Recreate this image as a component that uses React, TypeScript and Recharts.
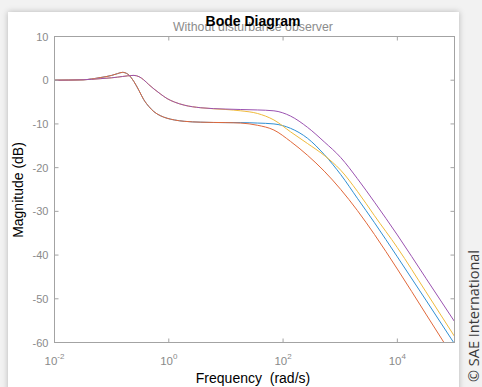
import React from 'react';
import { LineChart, Line, XAxis, YAxis } from 'recharts';

// Frequency grid (rad/s)
const FREQ = [
  0.01, 0.0316, 0.0631, 0.1, 0.126, 0.155, 0.191, 0.245, 0.302, 0.363,
  0.447, 0.55, 0.708, 0.933, 1.26, 1.86, 3.63, 10, 18.2, 35.5,
  69.2, 135, 269, 525, 1023, 1995, 3981, 10000, 31623, 100000,
];

// Magnitudes (dB)
const MAG_BLUE = [
  0, 0.1, 0.6, 1.1, 1.5, 1.8, 1.4, -0.3, -2.4, -4.4,
  -6.0, -7.2, -8.1, -8.7, -9.1, -9.4, -9.6, -9.7, -9.7, -9.8,
  -10.0, -11.0, -13.3, -17.0, -21.6, -27.0, -32.6, -40.4, -50.3, -60.3,
];
const MAG_ORANGE = [
  0, 0.1, 0.6, 1.1, 1.5, 1.8, 1.4, -0.3, -2.4, -4.4,
  -6.0, -7.2, -8.1, -8.7, -9.1, -9.4, -9.6, -9.7, -9.8, -10.3,
  -11.4, -14.0, -17.2, -20.8, -25.0, -29.8, -35.3, -43.2, -53.5, -63.8,
];
const MAG_YELLOW = [
  0, 0.1, 0.35, 0.55, 0.7, 0.85, 1.0, 1.1, 0.8, 0.1,
  -1.0, -2.0, -3.1, -4.2, -5.0, -5.7, -6.3, -6.7, -7.0, -7.6,
  -9.1, -11.8, -14.5, -17.2, -20.6, -25.4, -31.0, -38.3, -48.4, -58.6,
];
const MAG_PURPLE = [
  0, 0.1, 0.35, 0.55, 0.7, 0.85, 1.0, 1.1, 0.8, 0.1,
  -1.0, -2.0, -3.1, -4.2, -5.0, -5.7, -6.3, -6.6, -6.7, -6.8,
  -7.0, -8.2, -10.8, -14.1, -17.7, -22.5, -27.9, -35.4, -45.3, -55.2,
];

const X_TICKS = [0.01, 1, 100, 10000];
const Y_TICKS = [-60, -50, -40, -30, -20, -10, 0, 10];

const TITLE = 'Bode Diagram';
const SUBTITLE = 'Without disturbance observer';
const X_LABEL = 'Frequency  (rad/s)';
const Y_LABEL = 'Magnitude (dB)';
const CREDIT = '\u00A9 SAE International';

const data = FREQ.map((w, i) => ({
  w,
  blue: MAG_BLUE[i],
  orange: MAG_ORANGE[i],
  yellow: MAG_YELLOW[i],
  purple: MAG_PURPLE[i],
}));

const W = 482;
const H = 387;
const PL = 54.5;
const PT = 36.5;
const PR = 454.5;
const PB = 342.5;
const PW = PR - PL;
const PH = PB - PT;

const AXIS_COLOR = '#a3a3a3';
const TICK_TEXT = '#8a8a8a';
const FONT = '"Liberation Sans", Arial, Helvetica, sans-serif';

const BottomTick = (props: any) => {
  const { x, payload } = props;
  const y = PB;
  const exp = Math.round(Math.log10(payload.value));
  return (
    <g>
      <line x1={x} x2={x} y1={y} y2={y - 4} stroke={AXIS_COLOR} strokeWidth={1} />
      <line x1={x} x2={x} y1={PT} y2={PT + 4} stroke={AXIS_COLOR} strokeWidth={1} />
      <text x={x} y={y + 22} textAnchor="middle" fill={TICK_TEXT} fontSize={11.5} fontFamily={FONT}>
        10
        <tspan dy={-6} fontSize={8}>{String(exp)}</tspan>
      </text>
    </g>
  );
};

const LeftTick = (props: any) => {
  const { y, payload } = props;
  const x = PL;
  return (
    <g>
      <line x1={x} x2={x + 4} y1={y} y2={y} stroke={AXIS_COLOR} strokeWidth={1} />
      <line x1={PR} x2={PR - 4} y1={y} y2={y} stroke={AXIS_COLOR} strokeWidth={1} />
      <text x={x - 6} y={y + 4} textAnchor="end" fill={TICK_TEXT} fontSize={11} fontFamily={FONT}>
        {payload.value}
      </text>
    </g>
  );
};

export default function App() {
  return (
    <div style={{ position: 'absolute', left: 0, top: 0, width: W, height: H, background: '#f2f2f2', overflow: 'hidden' }}>
      <div
        style={{
          position: 'absolute',
          left: 8,
          top: 12,
          width: 451,
          height: 390,
          background: '#ffffff',
          boxShadow: '0 0 6px rgba(0,0,0,0.25)',
        }}
      />
      <div style={{ position: 'absolute', left: 0, top: 0 }}>
        <LineChart
          width={W}
          height={H}
          data={data}
          margin={{ top: PT, right: W - PR, bottom: 0, left: 0 }}
        >
          <XAxis
            dataKey="w"
            type="number"
            scale="log"
            domain={[0.01, 100000]}
            ticks={X_TICKS}
            interval={0}
            allowDataOverflow
            height={H - PB}
            tickSize={0}
            tickMargin={0}
            tickLine={false}
            axisLine={false}
            tick={(p: any) => <BottomTick {...p} />}
          />
          <YAxis
            type="number"
            domain={[-60, 10]}
            ticks={Y_TICKS}
            interval={0}
            allowDataOverflow
            width={PL}
            tickSize={0}
            tickMargin={0}
            tickLine={false}
            axisLine={false}
            tick={(p: any) => <LeftTick {...p} />}
          />
          <Line type="monotone" dataKey="blue" stroke="#2f8fd3" strokeWidth={1} dot={false} isAnimationActive={false} />
          <Line type="monotone" dataKey="orange" stroke="#e0683a" strokeWidth={1} dot={false} isAnimationActive={false} />
          <Line type="monotone" dataKey="yellow" stroke="#efba3c" strokeWidth={1} dot={false} isAnimationActive={false} />
          <Line type="monotone" dataKey="purple" stroke="#9a52b0" strokeWidth={1} dot={false} isAnimationActive={false} />
        </LineChart>
      </div>
      <svg width={W} height={H} style={{ position: 'absolute', left: 0, top: 0, pointerEvents: 'none' }}>
        <rect x={PL} y={PT} width={PW} height={PH} fill="none" stroke={AXIS_COLOR} strokeWidth={1} />
        <text x={253} y={30.5} textAnchor="middle" fill="#8c8c8c" fontSize={12.3} fontFamily={FONT}>
          {SUBTITLE}
        </text>
        <text x={253} y={26} textAnchor="middle" fill="#000" fontSize={14} fontWeight="bold" fontFamily={FONT}>
          {TITLE}
        </text>
        <text x={253} y={383} textAnchor="middle" fill="#000" fontSize={14} fontFamily={FONT} style={{ whiteSpace: 'pre' }}>
          {X_LABEL}
        </text>
        <text
          x={23}
          y={190}
          textAnchor="middle"
          fill="#000"
          fontSize={14}
          fontFamily={FONT}
          transform="rotate(-90 23 190)"
        >
          {Y_LABEL}
        </text>
        <text
          x={479}
          y={316}
          textAnchor="middle"
          fill="#3a3a3a"
          fontSize={14.5}
          fontFamily={'"Open Sans", "Noto Sans", sans-serif'}
          transform="rotate(-90 479 316)"
        >
          {CREDIT}
        </text>
      </svg>
    </div>
  );
}
